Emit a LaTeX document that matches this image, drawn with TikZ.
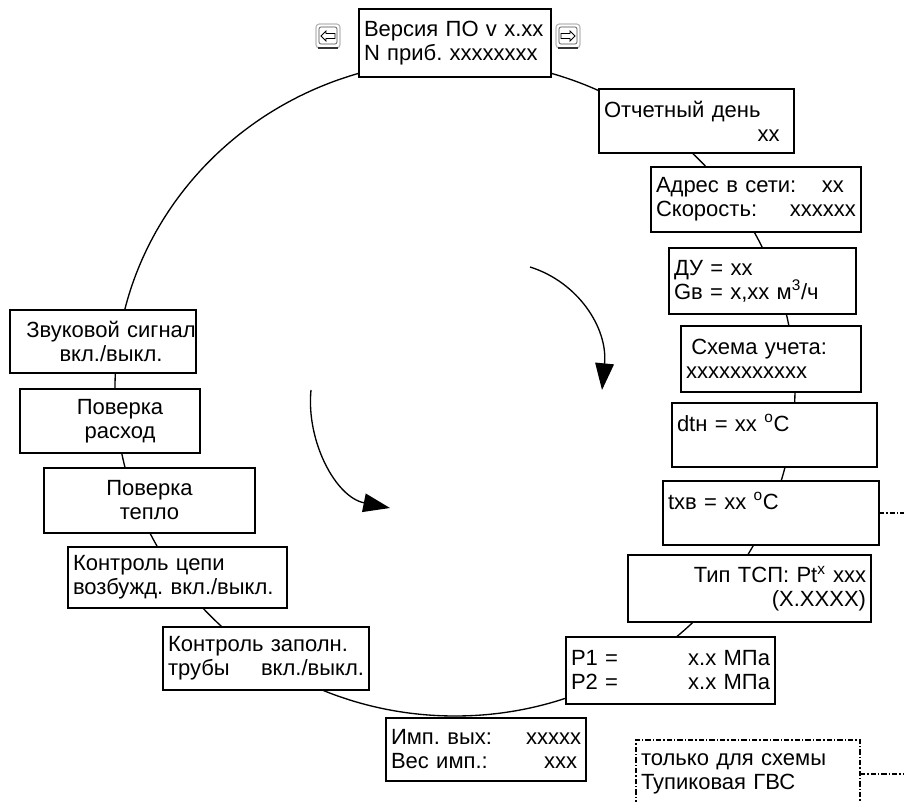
\documentclass[tikz,border=0pt]{standalone}
\usepackage{fontspec}
\setmainfont{Liberation Sans}
\usetikzlibrary{arrows.meta}
\frenchspacing
\newcommand\rfill{\hskip 0pt plus 1filll\relax}
\newcommand\rpad[1]{\kern#1\null}
\tikzset{
  box/.style={draw, fill=white, line width=1pt, inner sep=0pt, outer sep=0pt},
  txt/.style={inner xsep=0pt, inner ysep=0pt, font=\fontsize{16.5}{18}\selectfont},
  ring/.style={line width=1pt},
  arr/.style={line width=1pt, -{Triangle[length=20pt,width=14pt]}},
  dd/.style={line width=0.8pt, dash pattern=on 4pt off 1.5pt on 1pt off 1.5pt},
}
% [opts]{name}{x1}{y1}{x2}{y2}{align}{dx}{text}
\newcommand\mkbox[9][]{%
  \node[box,#1,minimum width={(#5-#3)*0.75pt},minimum height={(#6-#4)*0.75pt}]
    (#2) at ({(#3+#5)/2},{(#4+#6)/2}) {};
  \node[txt,align=#7,text width={(#5-#3-10)*0.75pt}]
    (#2-t) at ([xshift=#8*0.75pt]#2.center) {#9};}
\newcommand\keyicon[3]{%
  \begin{scope}[shift={(#1,#2)},xscale=#3]
    \draw[gray!55, line width=0.9pt, rounded corners=2.5pt, fill=white] (-12,-12) rectangle (12,12);
    \draw[black!80, line width=0.8pt] (-10,12) -- (10,12);
    \draw[black!70, line width=0.5pt, rounded corners=1.5pt] (-9,-9) rectangle (9,8);
    \draw[black, line width=0.7pt, line join=miter] (-7,0) -- (-2,-5) -- (-2,-2.5) -- (7,-2.5) -- (7,2.5) -- (-2,2.5) -- (-2,5) -- cycle;
  \end{scope}}
\begin{document}
\begin{tikzpicture}[x=0.75pt,y=-0.75pt]
\useasboundingbox (0,0) rectangle (904,802);
\clip (0,0) rectangle (904,802);
\coordinate (ctr) at (455,388);
\coordinate (edgeR) at (904,0);
\draw[ring] (ctr) ellipse [x radius=340, y radius=328];

% right side
\mkbox{ver}{359}{9}{551}{77}{left}{0}{Версия ПО v x.xx\\N приб. xxxxxxxx}
\mkbox{otch}{599}{89}{794}{153}{left}{0}{Отчетный день\\\rfill xx\rpad{7pt}}
\mkbox{addr}{651}{167}{861}{232}{left}{0}{Адрес в сети:\rfill xx\rpad{9pt}\\Скорость:\rfill xxxxxx}
\mkbox{du}{669}{248}{856}{314}{left}{0}{ДУ = xx\\Gв = x,xx м\textsuperscript{3}/ч}
\mkbox{sch}{681}{326}{861}{392}{left}{0}{\hspace*{4pt}Схема учета:\\xxxxxxxxxxx}
\mkbox{dtn}{672}{403}{877}{467}{left}{0}{dtн = xx \textsuperscript{o}C\\\mbox{}}
\mkbox{txv}{663}{481}{879}{545}{left}{0}{tхв = xx \textsuperscript{o}C\\\mbox{}}
\mkbox{tip}{628}{555}{871}{622}{right}{0}{Тип ТСП: Pt\textsuperscript{x} xxx\\(X.XXXX)}
\mkbox{pp}{566}{637}{775}{704}{left}{0}{P1 =\rfill x.x МПа\\P2 =\rfill x.x МПа}
\mkbox{imp}{386}{718}{586}{781}{left}{0}{Имп. вых:\rfill xxxxx\\Вес имп.:\rfill xxx\rpad{3pt}}
\mkbox[dd]{note}{636}{740}{860}{808}{left}{0}{только для схемы\\Тупиковая ГВС}

% left side
\mkbox{zvuk}{10}{310}{196}{373}{center}{8}{Звуковой сигнал\\вкл./выкл.}
\mkbox{pr}{20}{389}{200}{453}{center}{10}{Поверка\\расход}
\mkbox{pt}{44}{468}{255}{533}{center}{0}{Поверка\\тепло}
\mkbox{kc}{68}{547}{287}{608}{left}{0}{Контроль цепи\\возбужд. вкл./выкл.}
\mkbox{kz}{163}{627}{369}{690}{left}{0}{Контроль заполн.\\трубы\rfill вкл./выкл.}

% dash-dot leaders
\draw[dd] (txv.east) -- (txv.east -| edgeR);
\draw[dd] (note.east) -- (note.east -| edgeR);

% keys
\keyicon{328}{36}{1}
\keyicon{568}{36}{-1}

% direction arrows
\draw[arr] (530,267) .. controls (578,282) and (608,328) .. (602,390);
\draw[arr] (311,390) .. controls (306,440) and (335,497) .. (390,508);
\end{tikzpicture}
\end{document}
